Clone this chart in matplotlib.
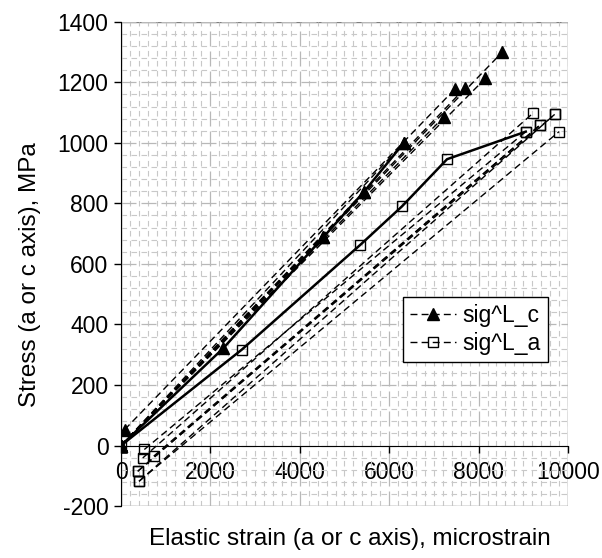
import matplotlib
matplotlib.use("Agg")
import matplotlib.pyplot as plt
from matplotlib.patches import Rectangle
from matplotlib.ticker import MultipleLocator

plt.rcParams["font.family"] = ["Liberation Sans", "DejaVu Sans"]
plt.rcParams["axes.unicode_minus"] = False

# loading curves (solid)
c_load_strain = [0, 2291, 4530, 5440, 6322]
c_load_stress = [0, 322, 689, 839, 999]
a_load_strain = [0, 2703, 5353, 6285, 7295, 9055]
a_load_stress = [0, 317, 663, 790, 946, 1037]

# unloading lines (dashed): residual point -> peak point
c_res_strain = [83, 0, 0, 0, 0, 0, 0, 0]
c_res_stress = [53, 0, 0, 0, 0, 0, 0, 0]
c_peak_strain = [7465, 8527, 8153, 7689, 7219, 6322, 5440, 4530]
c_peak_stress = [1177, 1299, 1213, 1180, 1085, 999, 839, 689]

a_res_strain = [403, 374, 732, 486, 522, 374, 403]
a_res_stress = [-118, -85, -35, -41, -13, -85, -118]
a_peak_strain = [9800, 9702, 9367, 9210, 9055, 9367, 9702]
a_peak_stress = [1037, 1094, 1058, 1097, 1037, 1058, 1094]

x_ticks = [0, 2000, 4000, 6000, 8000, 10000]
y_ticks = [-200, 0, 200, 400, 600, 800, 1000, 1200, 1400]

fig = plt.figure(figsize=(6.02, 5.58), dpi=100)
ax = fig.add_axes([0.201, 0.093, 0.7425, 0.868])

dash = (0, (5, 3))
c_style = dict(color="black", linestyle=dash, linewidth=1.0,
               marker="^", markersize=8, markerfacecolor="black",
               markeredgecolor="black")
a_style = dict(color="black", linestyle=dash, linewidth=1.0,
               marker="s", markersize=7.5, markerfacecolor="none",
               markeredgecolor="black", markeredgewidth=1.0)

h_c = None
for i in range(len(c_res_strain)):
    ln, = ax.plot([c_res_strain[i], c_peak_strain[i]],
                  [c_res_stress[i], c_peak_stress[i]],
                  label="sig^L_c" if i == 0 else None, **c_style)
    if i == 0:
        h_c = ln

h_a = None
for i in range(len(a_res_strain)):
    ln, = ax.plot([a_res_strain[i], a_peak_strain[i]],
                  [a_res_stress[i], a_peak_stress[i]],
                  label="sig^L_a" if i == 0 else None, **a_style)
    if i == 0:
        h_a = ln

ax.plot(c_load_strain, c_load_stress, color="black", linewidth=1.8,
        marker="^", markersize=8, markerfacecolor="black")
ax.plot(a_load_strain, a_load_stress, color="black", linewidth=1.8,
        marker="s", markersize=7.5, markerfacecolor="none",
        markeredgecolor="black")

ax.set_xlim(0, 10000)
ax.set_ylim(-200, 1400)
ax.set_xticks(x_ticks)
ax.set_yticks(y_ticks)
ax.xaxis.set_minor_locator(MultipleLocator(200))
ax.yaxis.set_minor_locator(MultipleLocator(40))

ax.grid(which="major", color="#b8b8b8", linestyle=(0, (12, 4)), linewidth=0.9)
ax.grid(which="minor", color="#c8c8c8", linestyle=(0, (5, 4)), linewidth=0.8)
ax.set_axisbelow(True)

ax.spines["bottom"].set_position(("data", 0))
ax.spines["bottom"].set_color("black")
ax.spines["left"].set_color("black")
ax.spines["top"].set_visible(False)
ax.spines["right"].set_visible(False)
ax.add_patch(Rectangle((0, 0), 1, 1, transform=ax.transAxes, fill=False,
                       edgecolor="#808080", linewidth=1.0, zorder=0.5))

ax.tick_params(which="minor", length=0)
ax.tick_params(which="major", direction="out", length=5, width=1,
               labelsize=16.5, colors="black")
ax.tick_params(axis="y", pad=4)
ax.tick_params(axis="x", pad=6)

ax.set_xlabel("Elastic strain (a or c axis), microstrain", fontsize=17.5)
ax.xaxis.set_label_coords(0.512, -0.045)
ax.set_ylabel("Stress (a or c axis), MPa", fontsize=17.5)
ax.yaxis.set_label_coords(-0.18, 0.477)

leg = ax.legend(handles=[h_c, h_a], loc="upper left",
                bbox_to_anchor=(0.631, 0.432), fontsize=16.5, numpoints=1,
                handlelength=2.0, handletextpad=0.3, borderpad=0.3,
                labelspacing=0.25, fancybox=False, framealpha=1,
                edgecolor="black", borderaxespad=0)
leg.get_frame().set_linewidth(1.0)

fig.savefig("out.png", dpi=100)
